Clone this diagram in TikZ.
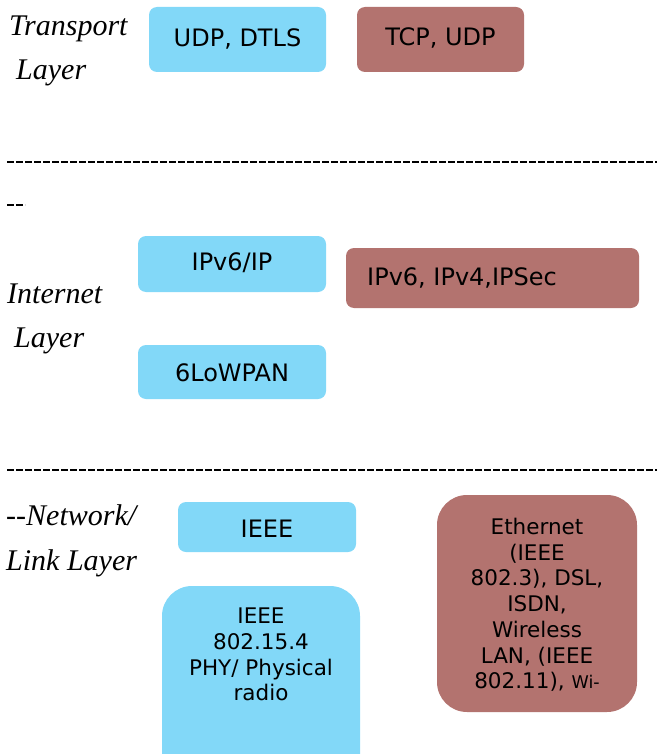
\documentclass[tikz,border=0pt]{standalone}
\usepackage{fontspec}
\setmainfont{DejaVu Sans}
\newfontfamily\layerfont{Liberation Serif}
\definecolor{lowblue}{RGB}{130,216,248}
\definecolor{stdbrown}{RGB}{179,115,111}
\begin{document}
\begin{tikzpicture}[x=1pt,y=-1pt,
  box/.style={rounded corners=8pt,inner sep=0pt,outer sep=0pt},
  iotbox/.style={box,fill=lowblue},
  webbox/.style={box,fill=stdbrown},
  boxtext/.style={font=\fontsize{24}{28}\selectfont,inner sep=0pt,text=black},
  smalltext/.style={font=\fontsize{21.5}{25.7}\selectfont,inner sep=0pt,align=center},
  layer/.style={font=\layerfont\itshape\fontsize{30}{32}\selectfont,inner sep=0pt,anchor=base west},
  sep/.style={line width=1.4pt,dash pattern=on 6.8pt off 2.2pt}]
\useasboundingbox (0,0) rectangle (657,754);

% transport layer
\node[layer] (tr1) at (9,36) {Transport};
\node[layer] (tr2) at (16,80) {Layer};
\fill[iotbox] (149,7) rectangle (326,72);
\node[boxtext] (udp) at (237.5,39) {UDP, DTLS};
\fill[webbox] (357,7) rectangle (524,72);
\node[boxtext] (tcp) at (440.5,38) {TCP, UDP};

% first separator
\draw[sep] (7,162) -- (657,162);
\draw[sep] (7,205) -- (25,205);

% internet layer
\node[layer] (in1) at (7,303) {Internet};
\node[layer] (in2) at (14,347) {Layer};
\fill[iotbox] (138,236) rectangle (326,292);
\node[boxtext] (ipv6) at (232,263) {IPv6/IP};
\fill[webbox] (346,248) rectangle (639,308);
\node[boxtext,anchor=west] (ipsec) at (367,278) {IPv6, IPv4,IPSec};
\fill[iotbox] (138,345) rectangle (326,399);
\node[boxtext] (lowpan) at (232,373) {6LoWPAN};

% second separator
\draw[sep] (7,470) -- (657,470);

% network / link layer
\node[layer] (nw1) at (6,525) {-{}-Network/};
\node[layer] (nw2) at (6,570) {Link Layer};
\fill[iotbox] (178,502) rectangle (356,552);
\node[boxtext] (ieee) at (267,529) {IEEE};
\fill[iotbox,rounded corners=30pt] (162,586) rectangle (360,790);
\node[smalltext,anchor=north] (phy) at (261,608)
  {IEEE\\802.15.4\\PHY/ Physical\\radio};
\fill[webbox,rounded corners=30pt] (437,495) rectangle (637,712);
\node[smalltext,anchor=north] (eth) at (537,518)
  {Ethernet\\(IEEE\\802.3), DSL,\\ISDN,\\Wireless\\LAN, (IEEE\\802.11), {\fontsize{17.5}{20}\selectfont Wi-}};
\end{tikzpicture}
\end{document}
